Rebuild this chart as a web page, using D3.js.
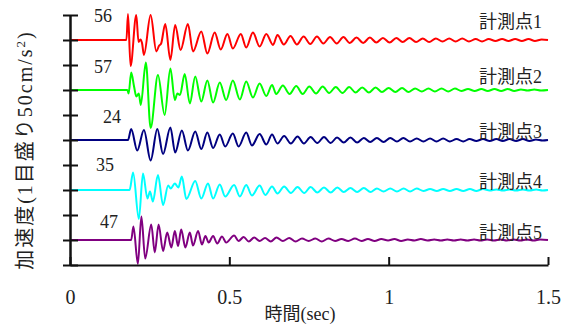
<!DOCTYPE html>
<html>
<head>
<meta charset="utf-8">
<script src="https://cdn.jsdelivr.net/npm/d3@7"></script>
<style>
  body { margin: 0; background: #fff; }
</style>
</head>
<body>
<svg id="chart" width="565" height="329"></svg>
<script>
// names and peak values (cm/s^2)
const pointNames = ["計測点1", "計測点2", "計測点3", "計測点4", "計測点5"];
const peakLabels = ["56", "57", "24", "35", "47"];
// each trace is drawn shifted up by this many cm/s^2 (two tick marks apart)
const offsets = [450, 350, 250, 150, 50];
const xTicks = [0, 0.5, 1, 1.5];
const yTicks = [0, 50, 100, 150, 200, 250, 300, 350, 400, 450, 500];

// [time sec, acceleration cm/s^2] (turning points)
const trace1 = [[0,0],[0.177,0],[0.182,52],[0.190,-52],[0.208,50],[0.215,-4],[0.221,1],[0.226,-6],[0.232,-30],
  [0.253,50],[0.271,-23],[0.279,-12],[0.286,-7],[0.299,32],[0.315,-40],[0.330,30],[0.347,-20],[0.370,32],
  [0.386,-23],[0.412,17],[0.431,-27],[0.454,15],[0.473,-19],[0.494,12],[0.511,-17],[0.536,12],[0.553,-15],
  [0.574,15],[0.595,-13],[0.616,12],[0.637,-10],[0.651,10],[0.671,-9],[0.692,8],[0.712,-9],[0.733,7],
  [0.754,-8],[0.775,7],[0.795,-7],[0.816,6],[0.837,-7],[0.858,6],[0.878,-6],[0.899,5],[0.920,-6],[0.941,5],
  [0.961,-5],[0.982,4],[1.003,-5],[1.024,4],[1.044,-4],[1.065,4],[1.086,-4],[1.107,3],[1.127,-4],[1.148,3],
  [1.169,-3],[1.190,3],[1.210,-3],[1.231,3],[1.252,-3],[1.273,2],[1.293,-3],[1.314,2],[1.335,-2],[1.356,2],
  [1.376,-2],[1.397,2],[1.418,-2],[1.439,2],[1.459,-2],[1.480,1],[1.500,0]];
const trace2 = [[0,0],[0.180,0],[0.184,-7],[0.192,35],[0.201,7],[0.208,-13],[0.216,-7],[0.222,-30],[0.238,55],
  [0.253,-76],[0.276,30],[0.297,-50],[0.315,43],[0.329,-20],[0.337,-7],[0.345,-10],[0.360,32],[0.376,-27],
  [0.393,27],[0.412,-23],[0.431,19],[0.449,-25],[0.470,15],[0.490,-20],[0.511,19],[0.533,-19],[0.553,17],
  [0.574,-15],[0.595,13],[0.616,-12],[0.634,10],[0.647,-8],[0.668,9],[0.689,-8],[0.710,8],[0.730,-8],
  [0.751,7],[0.772,-7],[0.793,7],[0.813,-6],[0.834,6],[0.855,-6],[0.876,6],[0.896,-5],[0.917,5],[0.938,-5],
  [0.959,5],[0.979,-4],[1.000,4],[1.021,-4],[1.042,4],[1.062,-4],[1.083,3],[1.104,-3],[1.125,3],[1.145,-3],
  [1.166,3],[1.187,-3],[1.208,3],[1.228,-2],[1.249,2],[1.270,-2],[1.291,2],[1.311,-2],[1.332,2],[1.353,-2],
  [1.374,2],[1.394,-2],[1.415,1],[1.436,-1],[1.457,1],[1.478,-1],[1.500,0]];
const trace3 = [[0,0],[0.182,0],[0.192,22],[0.211,-21],[0.232,20],[0.253,-41],[0.274,22],[0.292,-28],[0.315,25],
  [0.330,-25],[0.351,19],[0.370,-21],[0.393,17],[0.412,-18],[0.431,15],[0.449,-16],[0.470,11],[0.487,-13],
  [0.511,13],[0.529,-13],[0.553,15],[0.571,-11],[0.595,12],[0.616,-9],[0.634,11],[0.651,-7],[0.672,8],
  [0.693,-7],[0.714,7],[0.734,-7],[0.755,6],[0.776,-6],[0.797,6],[0.818,-6],[0.838,5],[0.859,-5],[0.880,5],
  [0.901,-5],[0.922,4],[0.942,-4],[0.963,4],[0.984,-4],[1.005,4],[1.026,-3],[1.046,4],[1.067,-3],[1.088,3],
  [1.109,-3],[1.130,3],[1.150,-3],[1.171,3],[1.192,-3],[1.213,2],[1.234,-3],[1.254,2],[1.275,-2],[1.296,2],
  [1.317,-2],[1.338,2],[1.358,-2],[1.379,2],[1.400,-2],[1.421,2],[1.442,-2],[1.462,1],[1.483,-1],[1.500,0]];
const trace4 = [[0,0],[0.187,0],[0.198,35],[0.216,-58],[0.229,33],[0.243,-17],[0.251,-3],[0.260,-23],[0.276,30],
  [0.292,-30],[0.308,9],[0.316,3],[0.329,13],[0.340,5],[0.351,27],[0.365,-18],[0.393,18],[0.412,-17],
  [0.433,13],[0.449,-17],[0.470,11],[0.487,-13],[0.515,10],[0.533,-13],[0.553,10],[0.571,-11],[0.595,9],
  [0.613,-10],[0.634,7],[0.651,-7],[0.672,7],[0.693,-6],[0.714,6],[0.735,-6],[0.755,6],[0.776,-5],[0.797,5],
  [0.818,-5],[0.839,5],[0.859,-4],[0.880,4],[0.901,-4],[0.922,4],[0.943,-4],[0.963,3],[0.984,-3],[1.005,3],
  [1.026,-3],[1.047,3],[1.067,-3],[1.088,3],[1.109,-2],[1.130,2],[1.151,-2],[1.171,2],[1.192,-2],[1.213,2],
  [1.234,-2],[1.255,2],[1.275,-2],[1.296,2],[1.317,-1],[1.338,1],[1.359,-1],[1.379,1],[1.400,-1],[1.421,1],
  [1.442,-1],[1.463,1],[1.483,-1],[1.500,0]];
const trace5 = [[0,0],[0.192,0],[0.199,27],[0.213,-48],[0.224,47],[0.236,-37],[0.255,31],[0.266,-25],[0.278,31],
  [0.292,-22],[0.305,15],[0.318,-15],[0.329,18],[0.339,-12],[0.349,21],[0.362,-15],[0.376,15],[0.386,-11],
  [0.402,18],[0.414,-9],[0.425,8],[0.435,-5],[0.449,8],[0.462,-7],[0.477,7],[0.490,-5],[0.515,9],[0.529,-2],
  [0.545,6],[0.561,-3],[0.578,5],[0.595,-2],[0.612,4],[0.630,-3],[0.648,5],[0.668,-2],[0.688,4],[0.708,-3],
  [0.728,3],[0.749,-2],[0.770,3],[0.790,-3],[0.811,3],[0.832,-2],[0.852,2],[0.873,-2],[0.894,3],[0.915,-2],
  [0.935,2],[0.956,-2],[0.977,2],[0.998,-1],[1.018,2],[1.039,-2],[1.060,1],[1.081,-1],[1.101,2],[1.122,-1],
  [1.143,1],[1.164,-1],[1.184,1],[1.205,-1],[1.226,1],[1.247,-1],[1.268,1],[1.288,-1],[1.309,1],[1.330,-1],
  [1.351,1],[1.371,-1],[1.392,1],[1.413,-1],[1.434,1],[1.455,-1],[1.475,1],[1.500,0]];

const traces = [trace1, trace2, trace3, trace4, trace5];
const colors = ["#ff0000", "#00ff00", "#000080", "#00ffff", "#800080"];
const FONT = "'Liberation Serif', 'DejaVu Serif', 'Noto Sans CJK JP', serif";

const svg = d3.select("#chart");

const x = d3.scaleLinear().domain([0, 1.5]).range([70, 548]);
const y = d3.scaleLinear().domain([0, 500]).range([265, 15]);

const line = d3.line()
  .x(d => x(d[0]))
  .y(d => y(d[1] + d[2]))
  .curve(d3.curveMonotoneX);

traces.forEach((tr, i) => {
  svg.append("path")
    .datum(tr.map(d => [d[0], d[1], offsets[i]]))
    .attr("fill", "none")
    .attr("stroke", colors[i])
    .attr("stroke-width", 2)
    .attr("stroke-linejoin", "round")
    .attr("d", line);
});

// left axis, ticks cross the line
svg.append("g")
  .attr("transform", "translate(70,0)")
  .call(d3.axisLeft(y).tickValues(yTicks).tickSize(7).tickSizeOuter(0).tickFormat(""));
svg.append("g")
  .attr("transform", "translate(70,0)")
  .call(d3.axisRight(y).tickValues(yTicks).tickSize(8).tickSizeOuter(0).tickFormat(""));

// bottom axis, ticks inward
svg.append("g")
  .attr("class", "xaxis")
  .attr("transform", "translate(0,265)")
  .attr("font-family", FONT)
  .call(d3.axisBottom(x).tickValues(xTicks).tickSize(-8).tickSizeOuter(0).tickPadding(25)
    .tickFormat(d => d3.format("")(d)));

svg.selectAll(".domain, .tick line").attr("stroke", "#111").attr("stroke-width", 2);
svg.select(".xaxis").attr("font-family", FONT).attr("font-size", 20);
svg.selectAll(".xaxis text").attr("fill", "#222");

// peak values
const peakPos = [[103, 22], [103, 73], [112, 123], [105, 171], [109, 228]];
peakLabels.forEach((s, i) => {
  svg.append("text")
    .attr("x", peakPos[i][0]).attr("y", peakPos[i][1])
    .attr("text-anchor", "middle")
    .attr("font-family", FONT)
    .attr("font-size", 18)
    .attr("fill", "#222")
    .text(s);
});

// point names
const nameY = [28, 83, 138, 188, 239];
pointNames.forEach((s, i) => {
  svg.append("text")
    .attr("x", 542).attr("y", nameY[i])
    .attr("text-anchor", "end")
    .attr("font-family", FONT)
    .attr("font-size", 18)
    .attr("fill", "#222")
    .text(s);
});

// axis titles
svg.append("text")
  .attr("x", 300).attr("y", 320)
  .attr("text-anchor", "middle")
  .attr("font-family", FONT)
  .attr("font-size", 18)
  .attr("fill", "#222")
  .text("時間(sec)");

const yt = svg.append("text")
  .attr("transform", "translate(32,150) rotate(-90)")
  .attr("text-anchor", "middle")
  .attr("font-family", FONT)
  .attr("font-size", 20)
  .attr("letter-spacing", 2)
  .attr("fill", "#222");
yt.append("tspan").text("加速度(1目盛り50cm/s");
yt.append("tspan").attr("dy", -7).attr("font-size", 13).text("2");
yt.append("tspan").attr("dy", 7).text(")");
</script>
</body>
</html>
